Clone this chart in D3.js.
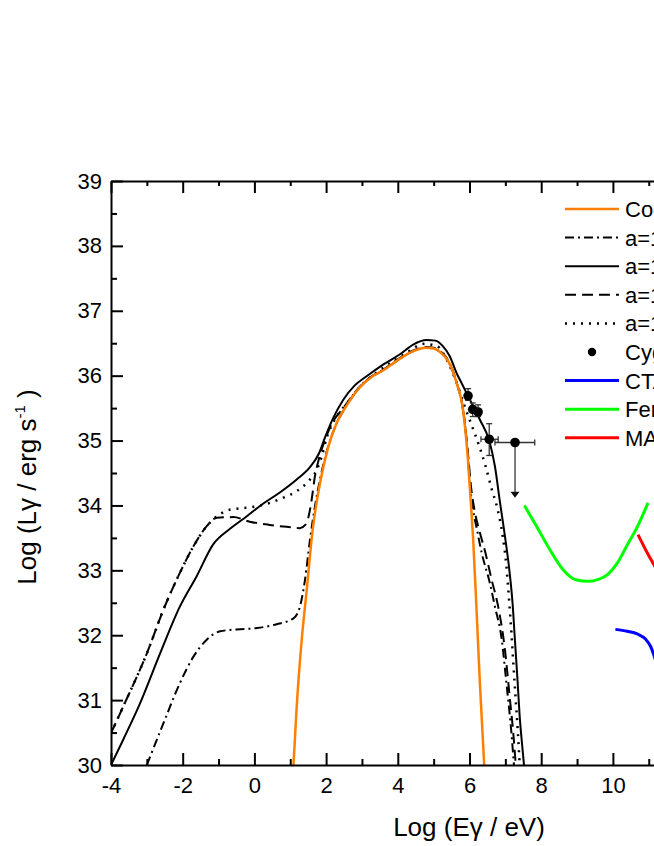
<!DOCTYPE html>
<html><head><meta charset="utf-8">
<script src="https://cdn.jsdelivr.net/npm/d3@7"></script>
<style>
body{margin:0;background:#fff}
svg{display:block}
text{font-family:"Liberation Sans",Arial,Helvetica,sans-serif;fill:#000}
</style>
</head><body>
<svg id="c" width="654" height="846"></svg>
<script>
// ---------- data (log E [eV], log L [erg/s]) ----------
const xDomain = [-4, 16];
const yDomain = [30, 39];
const xMajorTicks = [-4, -2, 0, 2, 4, 6, 8, 10];
const xMinorTicks = [-3, -1, 1, 3, 5, 7, 9, 11];
const yMajorTicks = [30, 31, 32, 33, 34, 35, 36, 37, 38, 39];
const yMinorTicks = [30.5, 31.5, 32.5, 33.5, 34.5, 35.5, 36.5, 37.5, 38.5];

const cocoon = [[1.09,30.0],[1.18,30.9],[1.32,31.93],[1.46,32.7],[1.62,33.6],[1.85,34.4],[2.05,34.88],[2.30,35.28],[2.55,35.52],[2.94,35.82],[3.30,35.99],[3.59,36.08],[4.0,36.24],[4.4,36.37],[4.78,36.43],[5.0,36.42],[5.17,36.37],[5.41,36.22],[5.64,35.89],[5.83,35.43],[5.95,34.75],[6.03,34.1],[6.10,33.5],[6.20,32.35],[6.29,31.26],[6.41,30.0]];

const modelDashDot = [[-3.0,30.0],[-2.54,30.64],[-2.08,31.26],[-1.70,31.67],[-1.33,31.93],[-0.96,32.06],[-0.49,32.09],[0.07,32.11],[0.62,32.17],[1.09,32.26],[1.27,32.44],[1.41,32.85],[1.55,33.47],[1.69,33.99],[1.83,34.4],[2.0,34.8],[2.3,35.27],[2.55,35.52],[2.94,35.82],[3.30,35.99],[3.59,36.08],[4.0,36.24],[4.4,36.37],[4.78,36.43],[5.0,36.42],[5.17,36.37],[5.41,36.22],[5.64,35.89],[5.83,35.43],[5.95,34.8],[6.01,34.35],[6.10,33.93],[6.20,33.65],[6.34,33.27],[6.57,32.8],[6.71,32.44],[6.90,31.93],[7.03,31.26],[7.17,30.49],[7.24,30.0]];

const modelSolid = [[-4.0,30.0],[-3.66,30.39],[-3.19,30.95],[-2.63,31.72],[-2.08,32.44],[-1.61,32.91],[-1.15,33.40],[-0.68,33.64],[-0.22,33.83],[0.25,34.03],[0.71,34.2],[1.18,34.4],[1.55,34.59],[1.80,34.8],[1.97,35.05],[2.20,35.35],[2.48,35.63],[2.80,35.85],[3.13,35.99],[3.59,36.17],[4.06,36.33],[4.43,36.48],[4.80,36.55],[5.05,36.54],[5.25,36.46],[5.45,36.3],[5.64,36.04],[5.73,35.94],[6.01,35.63],[6.29,35.32],[6.55,35.0],[6.71,34.6],[6.85,34.05],[6.99,33.52],[7.11,33.01],[7.20,32.5],[7.27,31.9],[7.34,31.3],[7.40,30.75],[7.47,30.3],[7.52,30.0]];

const modelDashed = [[-4.0,30.49],[-3.66,30.9],[-3.0,31.72],[-2.54,32.39],[-2.08,32.96],[-1.70,33.37],[-1.33,33.68],[-1.05,33.81],[-0.59,33.82],[-0.13,33.75],[0.43,33.70],[0.9,33.67],[1.27,33.65],[1.42,33.70],[1.52,33.85],[1.60,34.1],[1.68,34.42],[1.80,34.72],[1.95,34.98],[2.15,35.25],[2.48,35.50],[2.94,35.83],[3.30,36.0],[3.59,36.09],[4.0,36.25],[4.4,36.38],[4.78,36.44],[5.0,36.43],[5.17,36.38],[5.41,36.23],[5.64,35.9],[5.83,35.45],[5.95,34.85],[6.05,34.25],[6.15,33.9],[6.28,33.6],[6.43,33.3],[6.62,32.85],[6.80,32.44],[6.99,31.77],[7.13,31.0],[7.22,30.5],[7.29,30.0]];

const modelDotted = [[-4.0,30.49],[-3.66,30.9],[-3.0,31.72],[-2.54,32.39],[-2.08,32.96],[-1.70,33.37],[-1.33,33.68],[-1.05,33.83],[-0.77,33.92],[-0.49,33.95],[-0.13,33.97],[0.25,34.01],[0.81,34.12],[1.18,34.22],[1.50,34.37],[1.74,34.55],[1.88,34.76],[2.02,35.05],[2.25,35.33],[2.62,35.6],[3.0,35.86],[3.41,36.05],[3.80,36.2],[4.30,36.37],[4.72,36.49],[5.08,36.46],[5.36,36.25],[5.64,35.89],[5.85,35.55],[6.05,35.25],[6.25,34.95],[6.45,34.6],[6.62,34.25],[6.78,33.95],[6.92,33.55],[7.03,33.06],[7.11,32.5],[7.17,32.03],[7.23,31.5],[7.29,31.0],[7.35,30.5],[7.40,30.0]];

const ctaCurve = [[10.07,32.09],[10.40,32.06],[10.68,32.02],[10.91,31.94],[11.05,31.83],[11.14,31.70],[11.25,31.5],[11.4,31.3],[11.7,31.1]];
const fermiCurve = [[7.53,34.0],[7.87,33.68],[8.24,33.32],[8.61,33.01],[8.99,32.85],[9.31,32.83],[9.60,32.86],[9.84,32.93],[10.12,33.11],[10.40,33.39],[10.68,33.67],[10.98,34.04]];
const magicCurve = [[10.70,33.55],[10.92,33.31],[11.14,33.09],[11.4,32.85],[11.7,32.65],[12.0,32.5]];

// Cyg data points
const cygE   = [5.96, 6.09, 6.24, 6.55, 7.27];
const cygL   = [35.69, 35.48, 35.44, 35.02, 34.97];
const cygLlo = [35.62, 35.37, 35.37, 34.77, null];
const cygLhi = [35.80, 35.58, 35.55, 35.26, null];
const cygElo = [null, null, null, 6.32, 6.71];
const cygEhi = [null, null, null, 6.80, 7.82];
const cygUpperTo = [null, null, null, null, 34.12];

const legendLabels = ["Cocoon","a=1.0","a=1.2","a=1.4","a=1.6","Cyg OB2","CTA","Fermi-LAT","MAGIC"];

// ---------- layout ----------
const svg = d3.select("#c");
const L = 111, R = 828, T = 181, B = 765;
const x = d3.scaleLinear().domain(xDomain).range([L, R]);
const y = d3.scaleLinear().domain(yDomain).range([B, T]);

svg.append("defs").append("clipPath").attr("id","plot")
  .append("rect").attr("x",L).attr("y",T).attr("width",R-L).attr("height",B-T);

const line = d3.line().x(d=>x(d[0])).y(d=>y(d[1])).curve(d3.curveMonotoneX);
const plot = svg.append("g").attr("clip-path","url(#plot)");

const styles = {
  cocoon:{stroke:"#FF8000", w:2.5, dash:null},
  dashdot:{stroke:"#000", w:2, dash:"9,4,2,4"},
  solid:{stroke:"#000", w:2, dash:null},
  dashed:{stroke:"#000", w:2, dash:"11,6"},
  dotted:{stroke:"#000", w:2.5, dash:"2,6"},
  cta:{stroke:"#0000FF", w:3, dash:null},
  fermi:{stroke:"#00FF00", w:3, dash:null},
  magic:{stroke:"#FF0000", w:3, dash:null}
};
function draw(data, s){
  plot.append("path").datum(data).attr("d", line)
    .attr("fill","none").attr("stroke", s.stroke).attr("stroke-width", s.w)
    .attr("stroke-dasharray", s.dash);
}
draw(modelDashDot, styles.dashdot);
draw(modelDashed, styles.dashed);
draw(modelDotted, styles.dotted);
draw(modelSolid, styles.solid);
draw(cocoon, styles.cocoon);
draw(ctaCurve, styles.cta);
draw(fermiCurve, styles.fermi);
draw(magicCurve, styles.magic);

// data points with error bars
const eb = plot.append("g").attr("stroke","#333").attr("stroke-width",1.3).attr("fill","none");
cygE.forEach((e,i)=>{
  const cx = x(e), cy = y(cygL[i]);
  if (cygLlo[i] !== null){
    eb.append("line").attr("x1",cx).attr("x2",cx).attr("y1",y(cygLlo[i])).attr("y2",y(cygLhi[i]));
    [cygLlo[i], cygLhi[i]].forEach(v=>eb.append("line").attr("x1",cx-3).attr("x2",cx+3).attr("y1",y(v)).attr("y2",y(v)));
  }
  if (cygElo[i] !== null){
    eb.append("line").attr("x1",x(cygElo[i])).attr("x2",x(cygEhi[i])).attr("y1",cy).attr("y2",cy);
    [cygElo[i], cygEhi[i]].forEach(v=>eb.append("line").attr("x1",x(v)).attr("x2",x(v)).attr("y1",cy-3).attr("y2",cy+3));
  }
  if (cygUpperTo[i] !== null){
    const yt = y(cygUpperTo[i]);
    eb.append("line").attr("x1",cx).attr("x2",cx).attr("y1",cy).attr("y2",yt-5);
    plot.append("path").attr("d",`M${cx-4.5},${yt-6}L${cx+4.5},${yt-6}L${cx},${yt}Z`).attr("fill","#111");
  }
});
plot.selectAll("circle.cyg").data(cygE).enter().append("circle").attr("class","cyg")
  .attr("cx",(d)=>x(d)).attr("cy",(d,i)=>y(cygL[i])).attr("r",4.8).attr("fill","#000");

// ---------- axes ----------
function styleAxis(g){
  g.attr("font-family",null).attr("font-size",null);
  g.select(".domain").attr("stroke","#000").attr("stroke-width",2);
  g.selectAll(".tick line").attr("stroke","#000").attr("stroke-width",2);
  g.selectAll(".tick text").style("font-size","22px").attr("fill","#000");
}
const fmt = d=>String(d);
// bottom
svg.append("g").attr("transform",`translate(0,${B})`)
  .call(d3.axisBottom(x).tickValues(xMinorTicks).tickSizeInner(-6).tickSizeOuter(0).tickFormat(""))
  .call(g=>{styleAxis(g); g.select(".domain").remove();});
svg.append("g").attr("transform",`translate(0,${B})`)
  .call(d3.axisBottom(x).tickValues(xMajorTicks).tickSizeInner(-12).tickSizeOuter(0).tickPadding(12).tickFormat(fmt))
  .call(styleAxis);
// top
svg.append("g").attr("transform",`translate(0,${T})`)
  .call(d3.axisTop(x).tickValues(xMinorTicks).tickSizeInner(-5).tickSizeOuter(0).tickFormat(""))
  .call(g=>{styleAxis(g); g.select(".domain").remove();});
svg.append("g").attr("transform",`translate(0,${T})`)
  .call(d3.axisTop(x).tickValues(xMajorTicks).tickSizeInner(-12).tickSizeOuter(0).tickFormat(""))
  .call(styleAxis);
// left
svg.append("g").attr("transform",`translate(${L},0)`)
  .call(d3.axisLeft(y).tickValues(yMinorTicks).tickSizeInner(-6).tickSizeOuter(0).tickFormat(""))
  .call(g=>{styleAxis(g); g.select(".domain").remove();});
svg.append("g").attr("transform",`translate(${L},0)`)
  .call(d3.axisLeft(y).tickValues(yMajorTicks).tickSizeInner(-12).tickSizeOuter(0).tickPadding(9).tickFormat(fmt))
  .call(styleAxis);

// axis titles
svg.append("text").attr("x",469).attr("y",836).attr("text-anchor","middle")
  .style("font-size","26px").text("Log (Eγ / eV)");
const yt = svg.append("text").attr("transform","translate(36,487) rotate(-90)")
  .attr("text-anchor","middle").style("font-size","26px");
yt.append("tspan").text("Log (Lγ / erg s");
yt.append("tspan").attr("dy",-11).style("font-size","15px").text("-1");
yt.append("tspan").attr("dy",11).text(" )");

// ---------- legend ----------
const legendStyles = [styles.cocoon, styles.dashdot, styles.solid, styles.dashed, styles.dotted, null, styles.cta, styles.fermi, styles.magic];
const lg = svg.append("g");
legendLabels.forEach((lab,i)=>{
  const ly = 209 + i*28.6;
  const s = legendStyles[i];
  if (s){
    lg.append("line").attr("x1",565).attr("x2",619).attr("y1",ly).attr("y2",ly)
      .attr("stroke",s.stroke).attr("stroke-width",s.w).attr("stroke-dasharray",s.dash);
  } else {
    lg.append("circle").attr("cx",592).attr("cy",ly).attr("r",4.2).attr("fill","#000");
  }
  lg.append("text").attr("x",625).attr("y",ly).attr("dy","0.36em").style("font-size","22px").text(lab);
});
</script>
</body></html>
